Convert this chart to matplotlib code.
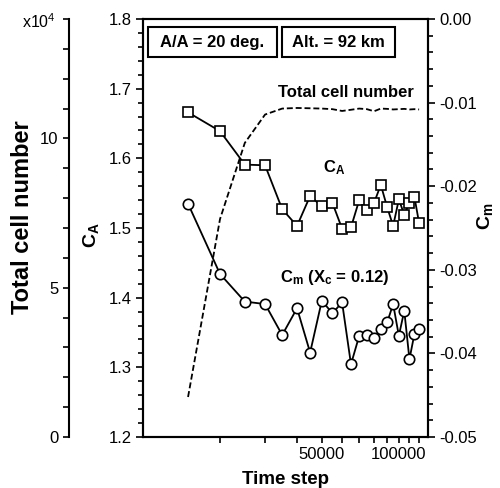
import matplotlib
matplotlib.use("Agg")
import matplotlib.pyplot as plt
import matplotlib.ticker as mticker
from matplotlib.patches import Rectangle

plt.rcParams['font.family'] = ['Liberation Sans', 'DejaVu Sans']
plt.rcParams['mathtext.fontset'] = 'custom'
plt.rcParams['mathtext.rm'] = 'Liberation Sans'
plt.rcParams['mathtext.bf'] = 'Liberation Sans:bold'
plt.rcParams['mathtext.it'] = 'Liberation Sans:italic'
plt.rcParams['axes.unicode_minus'] = False

# ---- data ----
time_step = [15000, 20000, 25000, 30000, 35000, 40000, 45000, 50000, 55000, 60000,
             65000, 70000, 75000, 80000, 85000, 90000, 95000, 100000, 105000, 110000,
             115000, 120000]
ca = [1.666, 1.639, 1.591, 1.590, 1.527, 1.503, 1.546, 1.531, 1.536, 1.499,
      1.501, 1.540, 1.526, 1.536, 1.562, 1.530, 1.503, 1.541, 1.519, 1.536,
      1.545, 1.507]
cm = [-0.0221, -0.0305, -0.0338, -0.0341, -0.0378, -0.0346, -0.0399, -0.0337, -0.0352, -0.0339,
      -0.0413, -0.0379, -0.0378, -0.0381, -0.0371, -0.0363, -0.0341, -0.0379, -0.0349, -0.0407,
      -0.0377, -0.0371]
cells = [1.34, 7.3, 9.85, 10.8, 11.0, 11.02, 11.01, 11.0, 10.98, 10.92,
         10.96, 11.0, 10.98, 10.91, 11.0, 10.99, 10.97, 10.98, 10.99, 10.97,
         10.98, 10.97]  # x10^4

x_major = [50000, 100000]
x_minor = [20000, 30000, 40000, 60000, 70000, 80000, 90000, 110000, 120000]

W, H = 500, 488
fig = plt.figure(figsize=(W / 100, H / 100), dpi=100)
L, R, T, B = 143, 428, 19, 437
ax = fig.add_axes([L / W, 1 - B / H, (R - L) / W, (B - T) / H])
ax2 = ax.twinx()
ax3 = ax.twinx()

lw_sp = 1.5
for a in (ax, ax2, ax3):
    for s in a.spines.values():
        s.set_linewidth(lw_sp)

# main axis (CA)
ax.set_xscale('log')
ax.set_xlim(1e4, 1.3e5)
ax.set_ylim(1.2, 1.8)
ax.xaxis.set_major_locator(mticker.FixedLocator(x_major))
ax.xaxis.set_minor_locator(mticker.FixedLocator(x_minor))
ax.xaxis.set_major_formatter(mticker.FuncFormatter(lambda v, p: f'{int(round(v))}'))
ax.xaxis.set_minor_formatter(mticker.NullFormatter())
ax.yaxis.set_major_locator(mticker.MultipleLocator(0.1))
ax.yaxis.set_minor_locator(mticker.MultipleLocator(0.02))
ax.yaxis.set_major_formatter(mticker.FormatStrFormatter('%.1f'))
ax.tick_params(axis='both', which='both', direction='out', labelsize=12, width=1.2)
ax.tick_params(axis='y', which='major', length=5, pad=3)
ax.tick_params(axis='y', which='minor', length=3.5)
ax.tick_params(axis='x', which='both', length=4.5, pad=3)

# right axis (Cm)
ax2.set_ylim(-0.05, 0.0)
ax2.yaxis.set_major_locator(mticker.MultipleLocator(0.01))
ax2.yaxis.set_minor_locator(mticker.MultipleLocator(0.002))
ax2.yaxis.set_major_formatter(mticker.FuncFormatter(
    lambda v, p: '0.00' if abs(v) < 1e-9 else f'{v:.2f}'))
ax2.tick_params(axis='y', which='both', direction='out', labelsize=12, width=1.2)
ax2.tick_params(axis='y', which='major', length=5, pad=3)
ax2.tick_params(axis='y', which='minor', length=3.5)

# far-left axis (cell number)
ax3.set_ylim(0, 14)
ax3.spines['right'].set_visible(False)
ax3.spines['top'].set_visible(False)
ax3.spines['bottom'].set_visible(False)
ax3.spines['left'].set_visible(True)
ax3.spines['left'].set_position(('axes', (69 - L) / (R - L)))
ax3.yaxis.set_ticks_position('left')
ax3.yaxis.set_label_position('left')
ax3.yaxis.set_major_locator(mticker.FixedLocator([0, 5, 10]))
ax3.yaxis.set_minor_locator(mticker.FixedLocator([v for v in range(0, 15) if v not in (0, 5, 10)]))
ax3.yaxis.set_major_formatter(mticker.FuncFormatter(lambda v, p: f'{int(v)}'))
ax3.tick_params(axis='y', which='both', direction='out', labelsize=12, width=1.2, length=4.5, pad=3)

# data
ax3.plot(time_step, cells, color='black', lw=1.3, dashes=(3.3, 1.6), zorder=2)
ax.plot(time_step, ca, color='black', lw=1.3, marker='s', ms=7, mfc='white', mec='black',
        mew=1.2, zorder=3)
ax2.plot(time_step, cm, color='black', lw=1.3, marker='o', ms=7.5, mfc='white', mec='black',
         mew=1.2, zorder=3)

def fx(px):
    return (px - L) / (R - L)

def fy(py):
    return 1 - (py - T) / (B - T)

# boxes
for (x0, x1, txt) in [(148, 277, 'A/A = 20 deg.'), (282, 395, 'Alt. = 92 km')]:
    ax.add_patch(Rectangle((fx(x0), fy(57)), fx(x1) - fx(x0), fy(27) - fy(57),
                           transform=ax.transAxes, fill=True, fc='white', ec='black',
                           lw=1.5, zorder=5, clip_on=False))
    ax.text(fx((x0 + x1) / 2), fy(42.5), txt, transform=ax.transAxes, ha='center',
            va='center', fontsize=12, fontweight='bold', zorder=6)

ax.text(fx(278), fy(97), 'Total cell number', transform=ax.transAxes, ha='left',
        va='baseline', fontsize=12, fontweight='bold')
ax.text(fx(323), fy(172), r'C$_\mathbf{A}$', transform=ax.transAxes, ha='left',
        va='baseline', fontsize=12, fontweight='bold')
ax.text(fx(280), fy(282), r'C$_\mathbf{m}$ (X$_\mathbf{c}$ = 0.12)', transform=ax.transAxes,
        ha='left', va='baseline', fontsize=12, fontweight='bold')

# axis labels
ax.text(fx(286), fy(479), 'Time step', transform=ax.transAxes, ha='center', va='center',
        fontsize=13.5, fontweight='bold')
ax.text(fx(91), fy(235), r'C$_\mathbf{A}$', transform=ax.transAxes, ha='center',
        va='center', fontsize=14, fontweight='bold', rotation=90)
ax.text(fx(485), fy(216), r'C$_\mathbf{m}$', transform=ax.transAxes, ha='center',
        va='center', fontsize=14, fontweight='bold', rotation=90)
ax.text(fx(22.5), fy(217), 'Total cell number', transform=ax.transAxes, ha='center',
        va='center', fontsize=17, fontweight='bold', rotation=90)
ax.text(fx(56), fy(22), r'x10$^4$', transform=ax.transAxes, ha='right', va='center',
        fontsize=11.5)

fig.savefig('out.png', dpi=100)
